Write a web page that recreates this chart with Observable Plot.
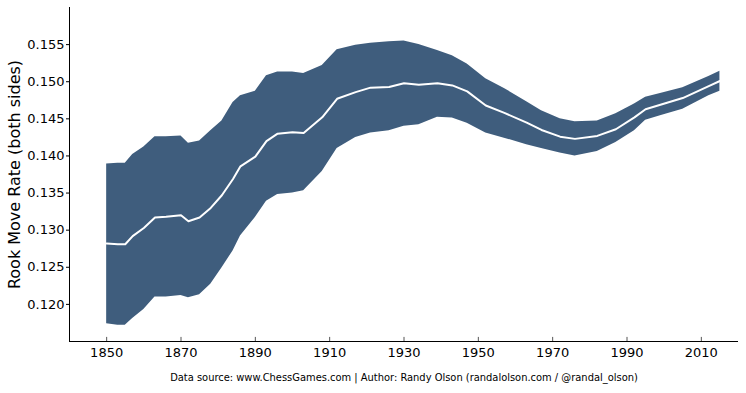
<!DOCTYPE html>
<html>
<head>
<meta charset="utf-8">
<script src="https://cdn.jsdelivr.net/npm/d3@7"></script>
<script src="https://cdn.jsdelivr.net/npm/@observablehq/plot@0.6"></script>
<style>
  html, body { margin: 0; padding: 0; background: white; }
</style>
</head>
<body>
<div id="chart"></div>
<script>
const years = [1850, 1853, 1855, 1857, 1860, 1863, 1866, 1870, 1872, 1875, 1878, 1881, 1884, 1886, 1890, 1893, 1896, 1900, 1903, 1908, 1912, 1917, 1921, 1926, 1930, 1934, 1939, 1943, 1947, 1952, 1957, 1963, 1967, 1972, 1976, 1982, 1987, 1992, 1995, 1999, 2005, 2012, 2015];
const upper = [0.1389, 0.1390, 0.1390, 0.1402, 0.1412, 0.1426, 0.1426, 0.1427, 0.1417, 0.1420, 0.1434, 0.1447, 0.1472, 0.1481, 0.1487, 0.1508, 0.1513, 0.1513, 0.1511, 0.1522, 0.1543, 0.1549, 0.1552, 0.1554, 0.1555, 0.1550, 0.1542, 0.1535, 0.1524, 0.1504, 0.1491, 0.1473, 0.1461, 0.1450, 0.1446, 0.1447, 0.1457, 0.1470, 0.1479, 0.1484, 0.1492, 0.1507, 0.1514];
const mean = [0.1282, 0.1281, 0.1281, 0.1292, 0.1303, 0.1317, 0.1318, 0.1320, 0.1312, 0.1317, 0.1330, 0.1347, 0.1369, 0.1386, 0.1399, 0.1420, 0.1430, 0.1432, 0.1431, 0.1452, 0.1477, 0.1486, 0.1492, 0.1493, 0.1498, 0.1496, 0.1498, 0.1495, 0.1487, 0.1468, 0.1458, 0.1445, 0.1435, 0.1426, 0.1423, 0.1427, 0.1436, 0.1452, 0.1463, 0.1469, 0.1478, 0.1494, 0.1501];
const lower = [0.1174, 0.1172, 0.1172, 0.1181, 0.1193, 0.1210, 0.1210, 0.1212, 0.1209, 0.1213, 0.1227, 0.1249, 0.1272, 0.1292, 0.1317, 0.1339, 0.1348, 0.1350, 0.1353, 0.1379, 0.1410, 0.1425, 0.1431, 0.1434, 0.1440, 0.1442, 0.1452, 0.1451, 0.1444, 0.1431, 0.1424, 0.1415, 0.1410, 0.1404, 0.1400, 0.1406, 0.1418, 0.1434, 0.1448, 0.1454, 0.1463, 0.1481, 0.1487];

const xTicks = [1850, 1870, 1890, 1910, 1930, 1950, 1970, 1990, 2010];
const yTicks = [0.120, 0.125, 0.130, 0.135, 0.140, 0.145, 0.150, 0.155];
const yLabel = "Rook Move Rate (both sides)";
const caption = "Data source: www.ChessGames.com | Author: Randy Olson (randalolson.com / @randal_olson)";

const data = years.map((yr, i) => ({year: yr, upper: upper[i], mean: mean[i], lower: lower[i]}));

const chart = Plot.plot({
  width: 746,
  height: 393,
  marginLeft: 69,
  marginRight: 8,
  marginTop: 7,
  marginBottom: 52,
  x: {domain: [1840, 2020]},
  y: {domain: [0.115, 0.160]},
  style: {fontFamily: "DejaVu Sans", fontSize: "13px", color: "black", background: "white"},
  marks: [
    Plot.areaY(data, {x: "year", y1: "lower", y2: "upper", fill: "#3F5D7D"}),
    Plot.lineY(data, {x: "year", y: "mean", stroke: "white", strokeWidth: 2}),
    Plot.axisY({ticks: yTicks, tickFormat: d3.format(".3f"), tickSize: 3, tickPadding: 2, label: null, fontSize: 13}),
    Plot.axisX({ticks: xTicks, tickFormat: d => String(d), tickSize: 0, tickPadding: 6, label: null, fontSize: 13}),
    Plot.ruleX(xTicks, {y1: 0.115, y2: 0.11555, stroke: "#555"}),
    Plot.ruleX([1840], {stroke: "black"}),
    Plot.ruleY([0.115], {stroke: "black"}),
    Plot.text([yLabel], {frameAnchor: "left", textAnchor: "middle", rotate: -90, dx: -55, fontSize: 16, fill: "black"}),
    Plot.text([caption], {frameAnchor: "bottom", dy: 39, fontSize: 11, fontFamily: "DejaVu Sans Condensed", fill: "black"})
  ]
});
document.getElementById("chart").appendChild(chart);
</script>
</body>
</html>
